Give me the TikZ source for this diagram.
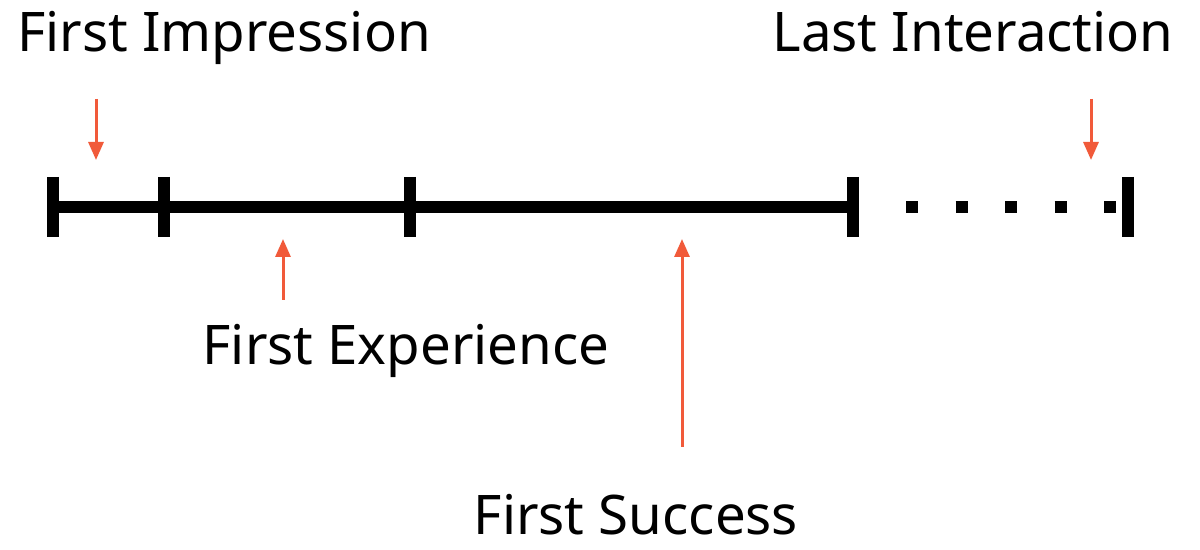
\documentclass[tikz,border=0pt]{standalone}
\usepackage{fontspec}
\setmainfont{Noto Sans}
\usetikzlibrary{arrows.meta}
\definecolor{pointred}{HTML}{F15A3A}
\tikzset{
  label/.style={font=\fontsize{27.3}{32}\selectfont, inner sep=0pt, anchor=base},
  pointer/.style={color=pointred, line width=1.5pt, -{Triangle[length=9pt,width=7.5pt]}},
  timeline/.style={line width=6pt},
  mark tick/.style={line width=6pt},
}

\begin{document}
\begin{tikzpicture}[x=0.5pt,y=-0.5pt]
\useasboundingbox[fill=white] (0,0) rectangle (1200,550);
% Drawing the time line
\coordinate (t1) at (53,207);
\coordinate (t2) at (164,207);
\coordinate (t3) at (410,207);
\coordinate (t4) at (853,207);
\coordinate (t5) at (1128,207);
\draw[timeline] (t1) -- (t4);
% Ticks
\draw[mark tick] (t1) +(0,-30) -- +(0,30);
\draw[mark tick] (t2) +(0,-30) -- +(0,30);
\draw[mark tick] (t3) +(0,-30) -- +(0,30);
\draw[mark tick] (t4) +(0,-30) -- +(0,30);
\draw[mark tick] (t5) +(0,-30) -- +(0,30);
% Dotted tail
\draw[line width=6pt, dash pattern=on 6pt off 18.75pt] (906,207) -- (1116,207);
% Done with line; drawing labels
\node[label] (impression) at (224,52) {First Impression};
\node[label] (interaction) at (973,52) {Last Interaction};
\node[label] (experience) at (406,365) {First Experience};
\node[label] (success) at (636,535) {First Success};
% Pointers
\coordinate (p1a) at (96,99);  \coordinate (p1b) at (96,160);
\coordinate (p2a) at (1091,99); \coordinate (p2b) at (1091,160);
\coordinate (p3a) at (283,300); \coordinate (p3b) at (283,239);
\coordinate (p4a) at (682,447); \coordinate (p4b) at (682,239);
\draw[pointer] (p1a) -- (p1b);
\draw[pointer] (p2a) -- (p2b);
\draw[pointer] (p3a) -- (p3b);
\draw[pointer] (p4a) -- (p4b);
% Done with pointers
\end{tikzpicture}
\end{document}
